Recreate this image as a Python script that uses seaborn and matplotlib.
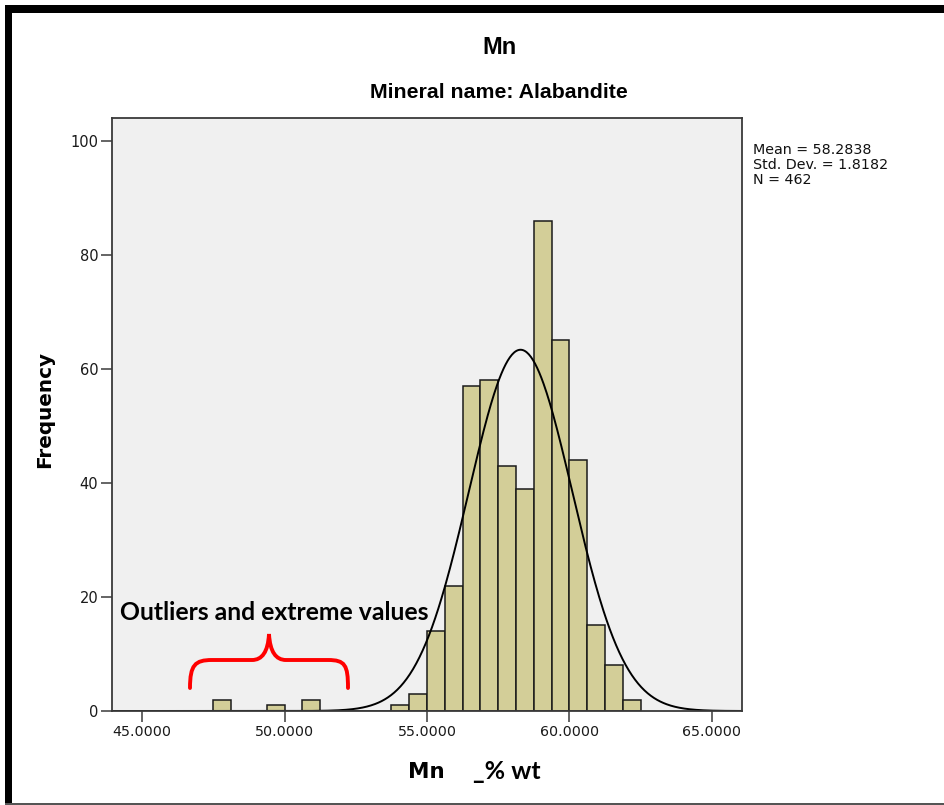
import numpy as np
import matplotlib
matplotlib.use("Agg")
import matplotlib.pyplot as plt
from matplotlib.patches import Rectangle, PathPatch
from matplotlib.path import Path
import seaborn as sns

# ---------------- data ----------------
bin_width = 0.625
bin_start = [47.5, 49.375, 50.625, 53.75, 54.375, 55.0, 55.625, 56.25, 56.875,
             57.5, 58.125, 58.75, 59.375, 60.0, 60.625, 61.25, 61.875]
counts = [2, 1, 2, 1, 3, 14, 22, 57, 58, 43, 39, 86, 65, 44, 15, 8, 2]
mean_val = 58.2838
std_val = 1.8182
n_val = 462
x_ticks = [45, 50, 55, 60, 65]
x_tick_labels = ["45.0000", "50.0000", "55.0000", "60.0000", "65.0000"]
y_ticks = [0, 20, 40, 60, 80, 100]

W, H = 944, 805
sns.set_style("white")
plt.rcParams["font.family"] = ["DejaVu Sans"]
plt.rcParams["text.color"] = "black"

fig = plt.figure(figsize=(W / 100, H / 100), dpi=100)
fig.patch.set_facecolor("white")

def fx(px):
    return px / W

def fy(py):
    return 1 - py / H

ax_l, ax_r, ax_t, ax_b = 112.3, 742.3, 118, 711
ax = fig.add_axes([fx(ax_l), fy(ax_b), (ax_r - ax_l) / W, (ax_b - ax_t) / H])
ax.set_facecolor("#F0F0F0")

centers = [s + bin_width / 2 for s in bin_start]
sns.histplot(x=centers, weights=counts, binwidth=bin_width, binrange=(47.5, 62.5),
             color="#D3CE98", edgecolor="#1a1a1a", linewidth=1.1, alpha=1.0, ax=ax)

xmin, xmax = 43.95, 66.07
xs = np.linspace(xmin, xmax, 600)
pdf = n_val * bin_width / (std_val * np.sqrt(2 * np.pi)) * np.exp(-0.5 * ((xs - mean_val) / std_val) ** 2)
sns.lineplot(x=xs, y=pdf, color="black", linewidth=1.4, ax=ax)

ax.set_xlim(xmin, xmax)
ax.set_ylim(0, 104)
ax.set_xticks(x_ticks)
ax.set_xticklabels(x_tick_labels)
ax.set_yticks(y_ticks)
ax.set_xlabel("")
ax.set_ylabel("")
for s in ax.spines.values():
    s.set_visible(True)
    s.set_color("#3a3a3a")
    s.set_linewidth(1.3)
ax.tick_params(axis="x", direction="out", length=8, width=1.1, color="#3a3a3a",
               labelsize=10.3, labelcolor="#1a1a1a", pad=2, bottom=True)
ax.tick_params(axis="y", direction="out", length=8, width=1.1, color="#3a3a3a",
               labelsize=10.5, labelcolor="#1a1a1a", pad=2, left=True)

fig.canvas.draw()
renderer = fig.canvas.get_renderer()

def fit_text(x, y, s, target_w, size0, **kw):
    t = fig.text(fx(x), fy(y), s, fontsize=size0, **kw)
    bb = t.get_window_extent(renderer)
    w = bb.height if kw.get("rotation", 0) == 90 else bb.width
    t.set_fontsize(size0 * target_w / w)
    return t

arial = ["Liberation Sans", "DejaVu Sans"]
fit_text(499, 47, "Mn", 34, 16, family=arial, weight="bold", ha="center", va="center")
fit_text(499, 92, "Mineral name: Alabandite", 256, 12, family=arial, weight="bold",
         ha="center", va="center")
fit_text(45, 409, "Frequency", 118, 14, family=["DejaVu Sans"], weight="bold",
         rotation=90, ha="center", va="center")
fig.text(fx(426), fy(772), "Mn", fontsize=15.5, family=["DejaVu Sans"], weight="bold",
         ha="center", va="center")
fig.text(fx(473), fy(771), "_% wt", fontsize=18, family=["Lato", "DejaVu Sans"], weight="bold",
         ha="left", va="center")
fig.text(fx(753), fy(143), f"Mean = {mean_val:.4f}\nStd. Dev. = {std_val:.4f}\nN = {n_val}",
         fontsize=10.3, ha="left", va="top", linespacing=1.1, color="#111111")
fit_text(120, 613, "Outliers and extreme values", 311, 16, family=["Lato", "DejaVu Sans"],
         weight="bold", ha="left", va="center", color="black")

# red brace (annotation)
pts = [(190, 688), (190, 665), (195, 660), (212, 660), (252, 660),
       (262, 660), (268, 652), (269, 634),
       (270, 652), (276, 660), (286, 660), (328, 660),
       (345, 660), (348, 665), (348, 688)]
codes = [Path.MOVETO, Path.CURVE4, Path.CURVE4, Path.CURVE4, Path.LINETO,
         Path.CURVE4, Path.CURVE4, Path.CURVE4,
         Path.CURVE4, Path.CURVE4, Path.CURVE4, Path.LINETO,
         Path.CURVE4, Path.CURVE4, Path.CURVE4]
verts = [(fx(a), fy(b)) for a, b in pts]
fig.add_artist(PathPatch(Path(verts, codes), transform=fig.transFigure, facecolor="none",
                         edgecolor="#FF0000", linewidth=2.8, capstyle="round"))

# page border
fig.add_artist(Rectangle((fx(5), fy(13)), 1, 8 / H, transform=fig.transFigure,
                         facecolor="black", edgecolor="none"))
fig.add_artist(Rectangle((fx(5), fy(805)), 7 / W, (805 - 5) / H, transform=fig.transFigure,
                         facecolor="black", edgecolor="none"))
fig.add_artist(Rectangle((fx(5), fy(805)), 1, 2 / H, transform=fig.transFigure,
                         facecolor="#555555", edgecolor="none"))

fig.savefig("out.png", dpi=100)
